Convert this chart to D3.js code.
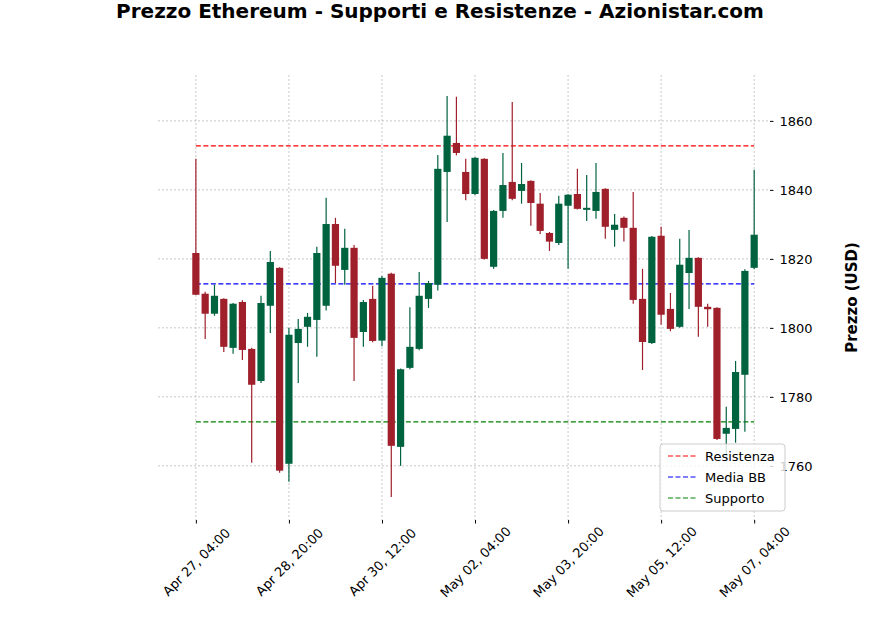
<!DOCTYPE html>
<html>
<head>
<meta charset="utf-8">
<script src="https://cdn.jsdelivr.net/npm/d3@7"></script>
<style>
body { margin: 0; background: #fff; font-family: "DejaVu Sans", sans-serif; }
.grid line { stroke: #b0b0b0; stroke-dasharray: 2,2; stroke-width: 0.7; }
</style>
</head>
<body>
<script>
// OHLC every 4 hours, starting Apr 27 04:00
var opens  = [1821.7,1809.9,1804.1,1808.4,1794.2,1807.5,1793.9,1784.6,1806.4,1817.4,1760.6,1795.6,1800.3,1802.3,1806.4,1830.1,1816.8,1823.2,1798.8,1808.4,
              1796.3,1815.7,1765.5,1788.4,1793.9,1808.4,1812.5,1845.2,1853.6,1845.2,1838.8,1849.0,1817.7,1833.9,1842.3,1839.7,1842.6,1836.0,1827.5,1824.6,
              1835.4,1838.8,1834.2,1833.9,1840.3,1828.4,1831.9,1829.0,1808.4,1795.6,1826.7,1805.5,1800.3,1815.9,1820.3,1806.1,1805.8,1769.3,1770.7,1786.4,1817.4];
var highs  = [1849.0,1810.5,1812.5,1808.6,1807.2,1808.0,1794.2,1809.3,1822.3,1817.6,1800.0,1802.6,1804.3,1823.5,1837.7,1831.9,1828.7,1824.0,1808.1,1812.2,
              1815.0,1816.0,1788.2,1806.0,1816.2,1813.6,1850.1,1867.2,1867.0,1849.0,1849.5,1849.2,1834.2,1850.7,1865.5,1847.8,1842.8,1839.1,1827.8,1838.3,
              1838.8,1846.1,1844.3,1847.8,1840.5,1833.0,1832.3,1839.4,1817.1,1826.6,1829.3,1810.1,1825.8,1828.4,1820.5,1807.0,1806.0,1777.1,1790.4,1817.0,1845.8];
var lows   = [1809.5,1796.8,1803.5,1793.0,1792.5,1790.7,1760.9,1784.0,1798.5,1758.0,1755.4,1784.0,1794.5,1791.6,1805.0,1813.0,1812.5,1784.6,1794.5,1795.8,
              1794.7,1751.0,1760.0,1788.0,1793.5,1805.8,1810.8,1830.7,1850.0,1837.0,1838.5,1819.8,1817.1,1831.9,1837.0,1836.0,1829.6,1827.2,1822.3,1824.0,
              1817.1,1834.3,1831.0,1831.6,1825.8,1823.5,1825.0,1807.0,1787.8,1795.3,1800.9,1799.0,1800.0,1805.5,1797.4,1800.3,1767.5,1762.0,1766.7,1769.9,1817.0];
var closes = [1809.6,1804.1,1809.3,1794.5,1807.0,1793.6,1783.5,1807.2,1819.1,1758.6,1798.0,1799.7,1803.2,1821.7,1830.1,1818.0,1823.2,1797.1,1807.5,1796.2,
              1814.5,1765.8,1788.0,1794.5,1809.3,1813.0,1846.1,1855.7,1850.7,1838.8,1849.3,1820.0,1833.9,1841.4,1837.4,1841.7,1836.2,1828.1,1825.0,1836.0,
              1838.6,1834.5,1834.8,1839.4,1829.3,1829.9,1829.0,1808.1,1795.9,1826.4,1803.8,1799.7,1818.3,1820.3,1806.1,1805.4,1767.8,1771.0,1787.2,1816.5,1827.0];
var levelNames  = ["Resistenza", "Media BB", "Supporto"];
var levelValues = [1852.75, 1812.75, 1772.75];
var levelColors = ["#ff0000", "#0000ff", "#008000"];
var yTicks = [1760, 1780, 1800, 1820, 1840, 1860];
var tickIdx = [0, 10, 20, 30, 40, 50, 60];

var start = new Date(2023, 3, 27, 4, 0);
var dates = opens.map(function(d, i) { return new Date(start.getTime() + i * 4 * 3600 * 1000); });
var fmt = d3.timeFormat("%b %d, %H:%M");

var W = 880, H = 632;
var pLeft = 158, pRight = 770, pTop = 75, pBottom = 520;

var svg = d3.select("body").append("svg").attr("width", W).attr("height", H);

var x = d3.scaleLinear().domain([-4.07, 61.7]).range([pLeft, pRight]);
var y = d3.scaleLinear().domain([1744.3, 1873.3]).range([pBottom, pTop]);

// grid
var grid = svg.append("g").attr("class", "grid");
grid.selectAll(".gx").data(tickIdx).enter().append("line")
	.attr("x1", function(d) { return x(d); }).attr("x2", function(d) { return x(d); })
	.attr("y1", pTop).attr("y2", pBottom);
grid.selectAll(".gy").data(yTicks).enter().append("line")
	.attr("x1", pLeft).attr("x2", pRight)
	.attr("y1", function(d) { return y(d); }).attr("y2", function(d) { return y(d); });

// axes
var yAxis = svg.append("g").attr("transform", "translate(" + pRight + ",0)")
	.call(d3.axisRight(y).tickValues(yTicks).tickSize(3.5).tickPadding(6).tickFormat(d3.format("d")));
var xAxis = svg.append("g").attr("transform", "translate(0," + pBottom + ")")
	.call(d3.axisBottom(x).tickValues(tickIdx).tickSize(3.5).tickPadding(4)
		.tickFormat(function(i) { return fmt(dates[i]); }));
[yAxis, xAxis].forEach(function(a) {
	a.select(".domain").remove();
	a.selectAll("text").attr("font-size", 13).attr("fill", "#000").attr("font-family", "DejaVu Sans");
});
xAxis.selectAll("text")
	.style("text-anchor", "middle")
	.attr("x", 0).attr("y", 0).attr("dy", "0.35em")
	.attr("transform", "translate(0,42) rotate(-45)");

// level lines
svg.selectAll(".level").data(levelValues).enter().append("line")
	.attr("x1", x(0)).attr("x2", x(60))
	.attr("y1", function(d) { return y(d); }).attr("y2", function(d) { return y(d); })
	.attr("stroke", function(d, i) { return levelColors[i]; })
	.attr("stroke-width", 1.1).attr("stroke-dasharray", "5,2.5");

// candles
var up = "#006340", down = "#9f1f2a";
var candle = svg.selectAll(".candle").data(opens).enter().append("g");
candle.append("line")
	.attr("x1", function(d, i) { return x(i); }).attr("x2", function(d, i) { return x(i); })
	.attr("y1", function(d, i) { return y(highs[i]); }).attr("y2", function(d, i) { return y(lows[i]); })
	.attr("stroke", function(d, i) { return closes[i] >= d ? up : down; })
	.attr("stroke-width", 1.2);
candle.append("rect")
	.attr("x", function(d, i) { return x(i) - 3.6; })
	.attr("width", 7.2)
	.attr("y", function(d, i) { return y(Math.max(d, closes[i])); })
	.attr("height", function(d, i) { return Math.max(1, Math.abs(y(d) - y(closes[i]))); })
	.attr("fill", function(d, i) { return closes[i] >= d ? up : down; });

// title and label
svg.append("text").attr("x", 440).attr("y", 18).attr("text-anchor", "middle")
	.attr("font-size", 20).attr("font-weight", "bold").text("Prezzo Ethereum - Supporti e Resistenze - Azionistar.com");
svg.append("text").attr("transform", "translate(857," + ((pTop + pBottom) / 2) + ") rotate(-90)")
	.attr("text-anchor", "middle").attr("font-size", 15).attr("font-weight", "bold").text("Prezzo (USD)");

// legend
var lg = svg.append("g").attr("transform", "translate(660,444)");
lg.append("rect").attr("width", 125).attr("height", 67).attr("rx", 3)
	.attr("fill", "#fff").attr("fill-opacity", 0.8).attr("stroke", "#ccc");
levelNames.forEach(function(n, i) {
	var yy = 12 + i * 21;
	lg.append("line").attr("x1", 8).attr("x2", 36).attr("y1", yy).attr("y2", yy)
		.attr("stroke", levelColors[i]).attr("stroke-dasharray", "5,2.5");
	lg.append("text").attr("x", 45).attr("y", yy + 4.5).attr("font-size", 13).text(n);
});
</script>
</body>
</html>
